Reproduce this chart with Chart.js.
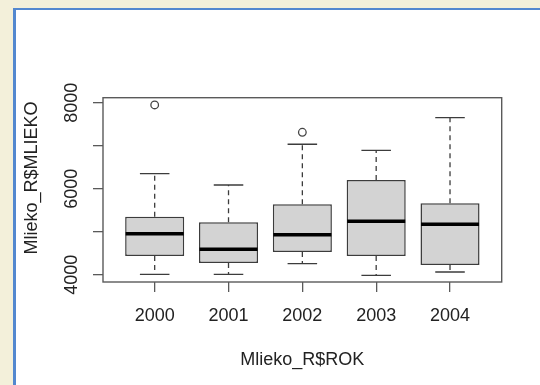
<!DOCTYPE html>
<html>
<head>
<meta charset="utf-8">
<script src="https://cdn.jsdelivr.net/npm/chart.js@4.4.1/dist/chart.umd.min.js"></script>
<style>
  html, body { margin: 0; padding: 0; }
  body { width: 540px; height: 385px; background: #f3f0da; position: relative; overflow: hidden; }
  #panel { position: absolute; left: 13px; top: 8px; width: 524px; height: 377px; background: #ffffff;
           border-left: 3px solid #5388cf; border-top: 2px solid #5388cf; }
  #c { position: absolute; left: 0; top: 0; }
</style>
</head>
<body>
<div id="panel"></div>
<canvas id="c" width="540" height="385"></canvas>
<script>
// ---- data ----
const years = ['2000', '2001', '2002', '2003', '2004'];
const lowerWhisker = [4009, 4009, 4256, 3986, 4063];
const q1 = [4435, 4272, 4528, 4435, 4226];
const median = [4953, 4590, 4930, 5242, 5172];
const q3 = [5349, 5219, 5637, 6202, 5660];
const upperWhisker = [6349, 6086, 7033, 6893, 7651];
const outlierYears = ['2000', '2002'];
const outlierValues = [7947, 7312];
const yTicks = [4000, 5000, 6000, 7000, 8000];
const yTickLabels = ['4000', '', '6000', '', '8000'];
const xTitle = 'Mlieko_R$ROK';
const yTitle = 'Mlieko_R$MLIEKO';

const FONT = "'Liberation Sans', Arial, sans-serif";
const TEXT = '#222222';
const AXIS = '#5a5a5a';

const rBoxPlugin = {
  id: 'rBox',
  afterDatasetsDraw(chart) {
    const { ctx, chartArea: a, scales: { x, y } } = chart;
    const meta = chart.getDatasetMeta(0);
    ctx.save();
    meta.data.forEach((bar, i) => {
      const cx = x.getPixelForValue(i + 1);
      const half = bar.getProps(['width'], true).width / 2;
      const cap = half * 0.5;
      ctx.strokeStyle = '#3c3c3c';
      ctx.lineWidth = 1.3;
      // dashed whiskers
      ctx.setLineDash([5, 4]);
      ctx.beginPath();
      ctx.moveTo(cx, y.getPixelForValue(q3[i]));
      ctx.lineTo(cx, y.getPixelForValue(upperWhisker[i]));
      ctx.moveTo(cx, y.getPixelForValue(q1[i]));
      ctx.lineTo(cx, y.getPixelForValue(lowerWhisker[i]));
      ctx.stroke();
      ctx.setLineDash([]);
      // caps
      ctx.beginPath();
      const yu = y.getPixelForValue(upperWhisker[i]);
      const yl = y.getPixelForValue(lowerWhisker[i]);
      ctx.moveTo(cx - cap, yu); ctx.lineTo(cx + cap, yu);
      ctx.moveTo(cx - cap, yl); ctx.lineTo(cx + cap, yl);
      ctx.stroke();
      // median
      const ym = y.getPixelForValue(median[i]);
      ctx.strokeStyle = '#000000';
      ctx.lineWidth = 3.5;
      ctx.beginPath();
      ctx.moveTo(cx - half + 0.5, ym); ctx.lineTo(cx + half - 0.5, ym);
      ctx.stroke();
    });
    // plot frame
    ctx.strokeStyle = AXIS;
    ctx.lineWidth = 1.4;
    ctx.strokeRect(a.left, a.top, a.right - a.left, a.bottom - a.top);
    // y axis title
    ctx.fillStyle = TEXT;
    ctx.font = '18px ' + FONT;
    ctx.textAlign = 'center';
    ctx.textBaseline = 'middle';
    ctx.translate(32, 178);
    ctx.rotate(-Math.PI / 2);
    ctx.fillText(yTitle, 0, 0);
    ctx.restore();
  }
};

new Chart(document.getElementById('c'), {
  type: 'bar',
  data: {
    datasets: [
      {
        type: 'bar',
        data: years.map((yr, i) => ({ x: i + 1, y: [q1[i], q3[i]] })),
        backgroundColor: '#d3d3d3',
        borderColor: '#3c3c3c',
        borderWidth: 1.5,
        borderSkipped: false,
        barPercentage: 0.8,
        categoryPercentage: 1
      },
      {
        type: 'scatter',
        data: outlierYears.map((yr, i) => ({ x: years.indexOf(yr) + 1, y: outlierValues[i] })),
        pointRadius: 3.8,
        pointBorderColor: '#444444',
        pointBackgroundColor: 'rgba(0,0,0,0)',
        pointBorderWidth: 1.3
      }
    ]
  },
  options: {
    responsive: false,
    animation: false,
    events: [],
    plugins: { legend: { display: false }, tooltip: { enabled: false } },
    layout: { padding: { left: 43, right: 38.3, top: 97.7, bottom: 13 } },
    scales: {
      x: {
        type: 'linear',
        min: 0.3,
        max: 5.7,
        offset: false,
        bounds: 'data',
        afterBuildTicks: s => { s.ticks = years.map((yr, i) => ({ value: i + 1 })); },
        afterFit: s => { s.height = 90; },
        ticks: {
          callback: v => years[Math.round(v) - 1],
          autoSkip: false, maxRotation: 0, minRotation: 0,
          font: { size: 18, family: FONT }, color: TEXT, padding: 13
        },
        grid: { offset: false, drawOnChartArea: false, tickLength: 10, color: AXIS, lineWidth: 1.3 },
        border: { display: false },
        title: { display: true, text: xTitle, font: { size: 18, family: FONT }, color: TEXT, padding: { top: 0, bottom: 1 } }
      },
      y: {
        type: 'linear',
        min: 3830,
        max: 8116,
        bounds: 'data',
        afterBuildTicks: s => { s.ticks = yTicks.map(v => ({ value: v })); },
        afterFit: s => { s.width = 60; },
        ticks: {
          callback: v => yTickLabels[yTicks.indexOf(v)],
          autoSkip: false, minRotation: 90, maxRotation: 90, crossAlign: 'center',
          font: { size: 18, family: FONT }, color: TEXT, padding: 1
        },
        grid: { drawOnChartArea: false, tickLength: 10, color: AXIS, lineWidth: 1.3 },
        border: { display: false }
      }
    }
  },
  plugins: [rBoxPlugin]
});
</script>
</body>
</html>
